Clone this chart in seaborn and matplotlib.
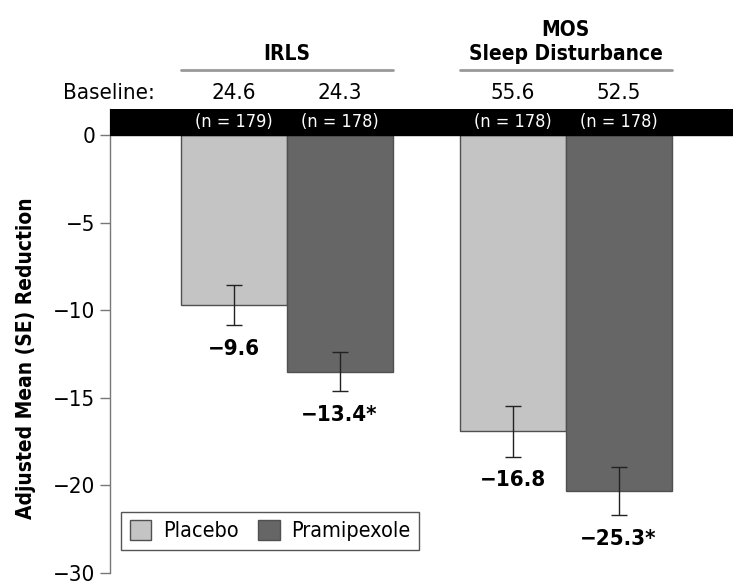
import seaborn as sns
import matplotlib.pyplot as plt
import pandas as pd
import numpy as np

# values
measures = ["IRLS", "MOS\nSleep Disturbance"]
groups = ["Placebo", "Pramipexole"]
# drawn bar ends (axis units as drawn), printed labels, SE
bar_ends = [-9.7, -13.5, -16.9, -20.3]
se = [1.13, 1.13, 1.45, 1.37]
value_labels = ["−9.6", "−13.4*", "−16.8", "−25.3*"]
baseline = ["24.6", "24.3", "55.6", "52.5"]
n_labels = ["(n = 179)", "(n = 178)", "(n = 178)", "(n = 178)"]
ytick_pos = [0, -5, -10, -15, -20, -25]
ytick_lab = ["0", "−5", "−10", "−15", "−20", "−30"]

sns.set_style("white")
plt.rcParams['font.family'] = ['DejaVu Sans']
plt.rcParams['font.stretch'] = 'condensed'
plt.rcParams['text.color'] = 'black'
plt.rcParams['ytick.labelcolor'] = 'black'

data = pd.DataFrame({
    "measure": [m for m in measures for g in groups],
    "group": [g for m in measures for g in groups],
    "value": bar_ends,
})

fig = plt.figure(figsize=(7.33, 5.82), dpi=100)
ax = fig.add_axes([110/733, 1 - 573/582, 623/733, 464/582])

palette = ["#c4c4c4", "#666666"]
sns.barplot(data=data, x="measure", y="value", hue="group", palette=palette,
            width=0.76, edgecolor="#505050", linewidth=1, errorbar=None, ax=ax)

# bar centres from the drawn patches, ordered left to right
bars = [p for p in ax.patches if p.get_height() != 0]
bars = sorted(bars, key=lambda p: p.get_x())
xs = [p.get_x() + p.get_width() / 2 for p in bars]

ax.set_xlim(-0.633, 1.6)
ax.set_ylim(-25, 1.5)
ax.axhspan(0, 1.5, color="black", zorder=3)

ax.errorbar(xs, bar_ends, yerr=se, fmt="none", ecolor="#222222", elinewidth=1,
            capsize=6, capthick=1, zorder=4)

for x, v, s, lab, b, n in zip(xs, bar_ends, se, value_labels, baseline, n_labels):
    ax.annotate(lab, (x, v - s), xytext=(0, -10), textcoords="offset points",
                ha="center", va="top", fontsize=16, fontweight="bold")
    ax.text(x, 0.75, n, ha="center", va="center", color="white", fontsize=13, zorder=5)
    ax.text(x, 2.4, b, ha="center", va="center", fontsize=16)

ax.text(-0.472, 2.4, "Baseline:", ha="right", va="center", fontsize=16)

# group headers
for i, m in enumerate(measures):
    left = bars[2 * i].get_x()
    right = bars[2 * i + 1].get_x() + bars[2 * i + 1].get_width()
    ax.plot([left, right], [3.7, 3.7], color="#999999", lw=2, clip_on=False)
    ax.text(i, 4.05, m, ha="center", va="bottom", fontsize=15, fontweight="bold",
            linespacing=1.3)

ax.set_yticks(ytick_pos)
ax.set_yticklabels(ytick_lab, fontsize=16)
ax.set_xticks([])
ax.set_xlabel("")
ax.set_ylabel("")
ax.tick_params(axis="y", direction="out", length=7, width=1, color="#777777", left=True)
for sp in ["top", "right", "bottom"]:
    ax.spines[sp].set_visible(False)
ax.spines["left"].set_color("#777777")
ax.spines["left"].set_linewidth(1)

fig.text(26/733, 1 - 358/582, "Adjusted Mean (SE) Reduction", rotation=90,
         ha="center", va="center", fontsize=15, fontweight="bold")

leg = ax.legend(loc="lower left", bbox_to_anchor=(0.0177, 0.0496), borderaxespad=0,
                ncol=2, fontsize=15.5, fancybox=False, edgecolor="#555555",
                handlelength=1.0, handleheight=1.0, columnspacing=0.9, handletextpad=0.55,
                borderpad=0.4, framealpha=1)
leg.get_frame().set_linewidth(1)

plt.savefig("out.png", dpi=100)
